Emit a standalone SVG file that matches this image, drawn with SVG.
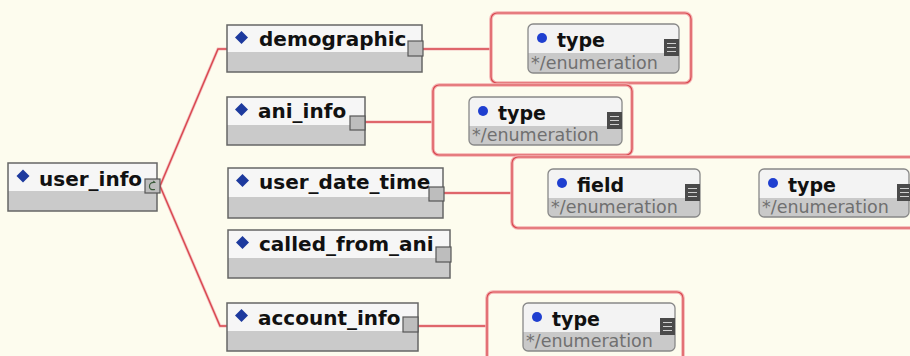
<svg xmlns="http://www.w3.org/2000/svg" width="910" height="356" viewBox="0 0 910 356">
<defs>
<style>
.el-top{fill:#f6f6f6;}
.el-bot{fill:#cacaca;}
.el-border{fill:none;stroke:#666;stroke-width:1.5;}
.el-icon{fill:#bdbdbd;stroke:#555;stroke-width:1.2;}
.el-text{font-family:"DejaVu Sans",sans-serif;font-weight:bold;font-size:20px;fill:#111;}
.dia{fill:#1d3a9e;}
.cont-halo{fill:none;stroke:#f3b0b0;stroke-width:3.5;}
.cont{fill:none;stroke:#d9484f;stroke-width:1.2;}
.ty-top{fill:#f3f3f3;}
.ty-bot{fill:#c9c9c9;}
.ty-border{fill:none;stroke:#888;stroke-width:1.3;}
.ty-name{font-family:"DejaVu Sans",sans-serif;font-weight:bold;font-size:19px;fill:#111;}
.ty-sub{font-family:"DejaVu Sans",sans-serif;font-size:17.5px;fill:#707070;}
.dot{fill:#1f3fd0;}
.lst{fill:#4a4a4a;}
.lst-line{stroke:#cfcfcf;stroke-width:1;}
.conn{fill:none;stroke:#d9484f;stroke-width:1.4;}
.conn-halo{fill:none;stroke:#f4c0c0;stroke-width:3;}
</style>
</defs>
<rect x="0" y="0" width="910" height="356" fill="#fdfcee"/>

<g id="connectors">
<polyline class="conn-halo" points="160,186 218,49 227,49"/>
<polyline class="conn" points="160,186 218,49 227,49"/>
<polyline class="conn-halo" points="160,186 220,326 227,326"/>
<polyline class="conn" points="160,186 220,326 227,326"/>
<line class="conn-halo" x1="422" y1="49" x2="491" y2="49"/>
<line class="conn" x1="422" y1="49" x2="491" y2="49"/>
<line class="conn-halo" x1="365" y1="122" x2="433" y2="122"/>
<line class="conn" x1="365" y1="122" x2="433" y2="122"/>
<line class="conn-halo" x1="443" y1="193" x2="512" y2="193"/>
<line class="conn" x1="443" y1="193" x2="512" y2="193"/>
<line class="conn-halo" x1="418" y1="326" x2="487" y2="326"/>
<line class="conn" x1="418" y1="326" x2="487" y2="326"/>
</g>

<g id="user_info">
<rect class="el-top" x="8" y="163" width="149" height="28"/>
<rect class="el-bot" x="8" y="191" width="149" height="20"/>
<rect class="el-border" x="8" y="163" width="149" height="48"/>
<polygon class="dia" points="23,169.5 29.5,176 23,182.5 16.5,176"/>
<text class="el-text" x="39" y="186">user_info</text>
<rect class="el-icon" x="145" y="179" width="15" height="14"/>
<path d="M155,182.5 Q149,182 149.5,187 Q150,190.5 155,189.5" fill="none" stroke="#3a5a3a" stroke-width="1.2"/>
<path d="M153,181 L155.5,182.5" fill="none" stroke="#3a5a3a" stroke-width="1"/>
</g>

<g id="demographic">
<rect class="el-top" x="227" y="25" width="195" height="27"/>
<rect class="el-bot" x="227" y="52" width="195" height="20"/>
<rect class="el-border" x="227" y="25" width="195" height="47"/>
<polygon class="dia" points="241.5,31 248,37.5 241.5,44 235,37.5"/>
<text class="el-text" x="259" y="46">demographic</text>
<rect class="el-icon" x="408" y="41" width="15" height="15"/>
</g>

<g id="ani_info">
<rect class="el-top" x="227" y="97" width="138" height="28"/>
<rect class="el-bot" x="227" y="125" width="138" height="20"/>
<rect class="el-border" x="227" y="97" width="138" height="48"/>
<polygon class="dia" points="241.5,103 248,109.5 241.5,116 235,109.5"/>
<text class="el-text" x="258" y="118">ani_info</text>
<rect class="el-icon" x="350" y="116" width="15" height="14"/>
</g>

<g id="user_date_time">
<rect class="el-top" x="228" y="168" width="215" height="29"/>
<rect class="el-bot" x="228" y="197" width="215" height="21"/>
<rect class="el-border" x="228" y="168" width="215" height="50"/>
<polygon class="dia" points="242.5,174 249,180.5 242.5,187 236,180.5"/>
<text class="el-text" x="259" y="189">user_date_time</text>
<rect class="el-icon" x="429" y="187" width="15" height="14"/>
</g>

<g id="called_from_ani">
<rect class="el-top" x="228" y="230" width="222" height="28"/>
<rect class="el-bot" x="228" y="258" width="222" height="20"/>
<rect class="el-border" x="228" y="230" width="222" height="48"/>
<polygon class="dia" points="242.5,236 249,242.5 242.5,249 236,242.5"/>
<text class="el-text" x="259" y="251">called_from_ani</text>
<rect class="el-icon" x="436" y="247" width="15" height="15"/>
</g>

<g id="account_info">
<rect class="el-top" x="227" y="303" width="191" height="28"/>
<rect class="el-bot" x="227" y="331" width="191" height="20"/>
<rect class="el-border" x="227" y="303" width="191" height="48"/>
<polygon class="dia" points="241.5,309 248,315.5 241.5,322 235,315.5"/>
<text class="el-text" x="258" y="325">account_info</text>
<rect class="el-icon" x="403" y="317" width="15" height="15"/>
</g>

<g id="demographic_type_group">
<rect class="cont-halo" x="491" y="13" width="200" height="70" rx="6"/>
<rect class="cont" x="491" y="13" width="200" height="70" rx="6"/>
</g>
<g id="demographic_type">
<rect class="ty-bot" x="528" y="24" width="151" height="49" rx="5"/>
<path class="ty-top" d="M533,24 H674 A5,5 0 0 1 679,29 V53 H528 V29 A5,5 0 0 1 533,24 Z"/>
<rect class="ty-border" x="528" y="24" width="151" height="49" rx="5"/>
<circle class="dot" cx="542" cy="38" r="5"/>
<text class="ty-name" x="557" y="47">type</text>
<text class="ty-sub" x="531" y="69">*/enumeration</text>
<rect class="lst" x="664" y="39" width="15" height="17"/>
<path class="lst-line" d="M667,43.5 H676 M667,47.5 H676 M667,51.5 H676"/>
</g>

<g id="ani_info_type_group">
<rect class="cont-halo" x="433" y="85" width="199" height="70" rx="6"/>
<rect class="cont" x="433" y="85" width="199" height="70" rx="6"/>
</g>
<g id="ani_info_type">
<rect class="ty-bot" x="469" y="97" width="153" height="48" rx="5"/>
<path class="ty-top" d="M474,97 H617 A5,5 0 0 1 622,102 V126 H469 V102 A5,5 0 0 1 474,97 Z"/>
<rect class="ty-border" x="469" y="97" width="153" height="48" rx="5"/>
<circle class="dot" cx="483" cy="111" r="5"/>
<text class="ty-name" x="498" y="120">type</text>
<text class="ty-sub" x="472" y="141">*/enumeration</text>
<rect class="lst" x="607" y="112" width="15" height="17"/>
<path class="lst-line" d="M610,116.5 H619 M610,120.5 H619 M610,124.5 H619"/>
</g>

<g id="user_date_time_group">
<rect class="cont-halo" x="512" y="157" width="410" height="71" rx="6"/>
<rect class="cont" x="512" y="157" width="410" height="71" rx="6"/>
</g>
<g id="user_date_time_field">
<rect class="ty-bot" x="548" y="169" width="152" height="48" rx="5"/>
<path class="ty-top" d="M553,169 H695 A5,5 0 0 1 700,174 V198 H548 V174 A5,5 0 0 1 553,169 Z"/>
<rect class="ty-border" x="548" y="169" width="152" height="48" rx="5"/>
<circle class="dot" cx="562" cy="183" r="5"/>
<text class="ty-name" x="577" y="192">field</text>
<text class="ty-sub" x="551" y="213">*/enumeration</text>
<rect class="lst" x="685" y="184" width="15" height="17"/>
<path class="lst-line" d="M688,188.5 H697 M688,192.5 H697 M688,196.5 H697"/>
</g>
<g id="user_date_time_type">
<rect class="ty-bot" x="759" y="169" width="150" height="48" rx="5"/>
<path class="ty-top" d="M764,169 H904 A5,5 0 0 1 909,174 V198 H759 V174 A5,5 0 0 1 764,169 Z"/>
<rect class="ty-border" x="759" y="169" width="150" height="48" rx="5"/>
<circle class="dot" cx="773" cy="183" r="5"/>
<text class="ty-name" x="788" y="192">type</text>
<text class="ty-sub" x="762" y="213">*/enumeration</text>
<rect class="lst" x="897" y="184" width="15" height="17"/>
<path class="lst-line" d="M900,188.5 H909 M900,192.5 H909 M900,196.5 H909"/>
</g>

<g id="account_info_type_group">
<rect class="cont-halo" x="487" y="292" width="196" height="90" rx="6"/>
<rect class="cont" x="487" y="292" width="196" height="90" rx="6"/>
</g>
<g id="account_info_type">
<rect class="ty-bot" x="523" y="303" width="152" height="48" rx="5"/>
<path class="ty-top" d="M528,303 H670 A5,5 0 0 1 675,308 V332 H523 V308 A5,5 0 0 1 528,303 Z"/>
<rect class="ty-border" x="523" y="303" width="152" height="48" rx="5"/>
<circle class="dot" cx="537" cy="317" r="5"/>
<text class="ty-name" x="552" y="326">type</text>
<text class="ty-sub" x="526" y="347">*/enumeration</text>
<rect class="lst" x="660" y="318" width="15" height="17"/>
<path class="lst-line" d="M663,322.5 H672 M663,326.5 H672 M663,330.5 H672"/>
</g>
</svg>
